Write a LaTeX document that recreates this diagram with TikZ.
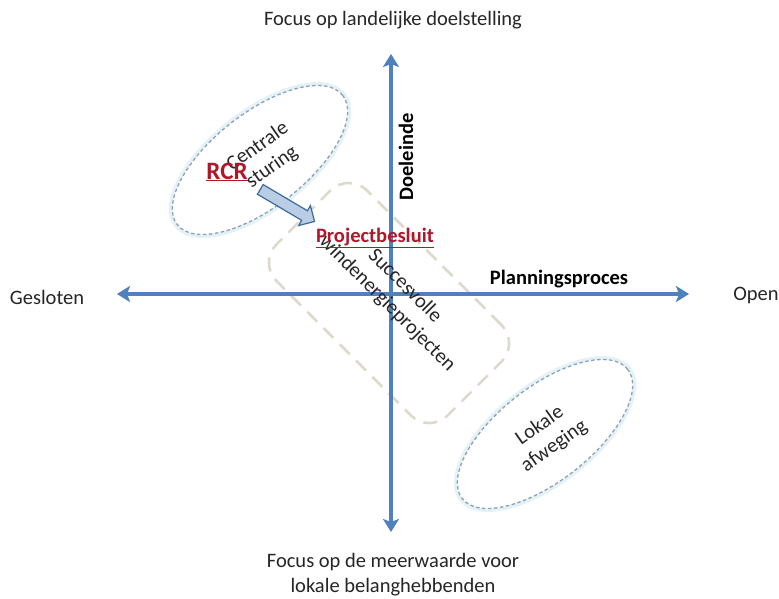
\documentclass[tikz,border=0pt]{standalone}
\usepackage{fontspec}
\setmainfont{Carlito}
\usetikzlibrary{shapes.geometric,shapes.arrows,arrows.meta,calc}
\definecolor{axisblue}{HTML}{4F81BD}
\definecolor{ellborder}{HTML}{8CA3B5}
\definecolor{ellglow}{HTML}{E4F1F6}
\definecolor{rectbeige}{HTML}{DEDACB}
\definecolor{darkred}{HTML}{B0172B}
\definecolor{arrfill}{HTML}{B9CDE5}
\definecolor{arrdraw}{HTML}{3F6A9E}
\begin{document}
\begin{tikzpicture}[x=1pt,y=-1pt,
  lbl/.style={font=\fontsize{20.5}{25}\selectfont, align=center, inner sep=0pt, text=black!85},
  blbl/.style={font=\fontsize{20.5}{25}\selectfont\bfseries, align=center, inner sep=0pt, text=black},
  redlbl/.style={font=\fontsize{20.5}{25}\selectfont\bfseries, inner sep=0pt, text=darkred},
  axis/.style={draw=axisblue, line width=3.3pt, {Stealth[length=13pt,width=16pt,inset=3pt]}-{Stealth[length=13pt,width=16pt,inset=3pt]}},
  oval/.style={ellipse, draw=ellborder, dash pattern=on 3.5pt off 2.5pt, line width=1.3pt, fill=white, minimum width=210pt, minimum height=94pt, inner sep=0pt},
  ovalglow/.style={ellipse, draw=ellglow, line width=5pt, minimum width=212pt, minimum height=96pt, inner sep=0pt},
  zone/.style={rectangle, rounded corners=26pt, draw=rectbeige, line width=2.6pt, dash pattern=on 14pt off 9pt, minimum width=242pt, minimum height=128pt, inner sep=0pt},
  blockarrow/.style={single arrow, draw=arrdraw, fill=arrfill, line width=1.2pt, minimum height=63pt, single arrow head extend=6pt, single arrow head indent=0pt, inner xsep=0pt, inner ysep=5pt, text height=0pt, text depth=0pt}
]
\fill[white] (0,0) rectangle (779,598);
\useasboundingbox (0,0) rectangle (779,598);

% zone rectangle
\node[zone, rotate=-45] (zone) at (389,303) {};

% ovals
\node[ovalglow, rotate=38] (glow1) at (260,160) {};
\node[oval, rotate=38] (centr) at (260,160) {};
\node[ovalglow, rotate=38] (glow2) at (545,434) {};
\node[oval, rotate=38] (lokaal) at (545,434) {};

% axes
\coordinate (vtop) at (391,54);
\coordinate (vbot) at (391,532);
\coordinate (hleft) at (117,294);
\coordinate (hright) at (689,294);
\draw[axis] (vbot) -- (vtop);
\draw[axis] (hleft) -- (hright);

% axis labels
\node[lbl] (top) at (393,20) {Focus op landelijke doelstelling};
\node[lbl] (bottom) at (393,575) {Focus op de meerwaarde voor\\lokale belanghebbenden};
\node[lbl] (gesl) at (47,297) {Gesloten};
\node[lbl] (open) at (756,295) {Open};
\node[blbl, rotate=90] (doel) at (406,157) {Doeleinde};
\node[blbl] (plan) at (559,279) {Planningsproces};

% inner texts
\node[lbl, rotate=35] (centrtxt) at (265,157) {Centrale\\sturing};
\node[lbl, rotate=35] (loktxt) at (547,436) {Lokale\\afweging};
\node[lbl, rotate=-45] (succ) at (396,295) {Succesvolle\\windenergieprojecten};

% block arrow
\coordinate (arrT) at (258,188);
\coordinate (arrH) at (312,220);
\node[blockarrow, rotate=-30.6] (rcrarrow) at ($(arrT)!0.5!(arrH)$) {};

% red labels
\node[redlbl, font=\fontsize{25}{30}\selectfont\bfseries] (rcr) at (227,172) {\underline{RCR}};
\node[redlbl] (proj) at (375,238) {\underline{Projectbesluit}};
\end{tikzpicture}
\end{document}
